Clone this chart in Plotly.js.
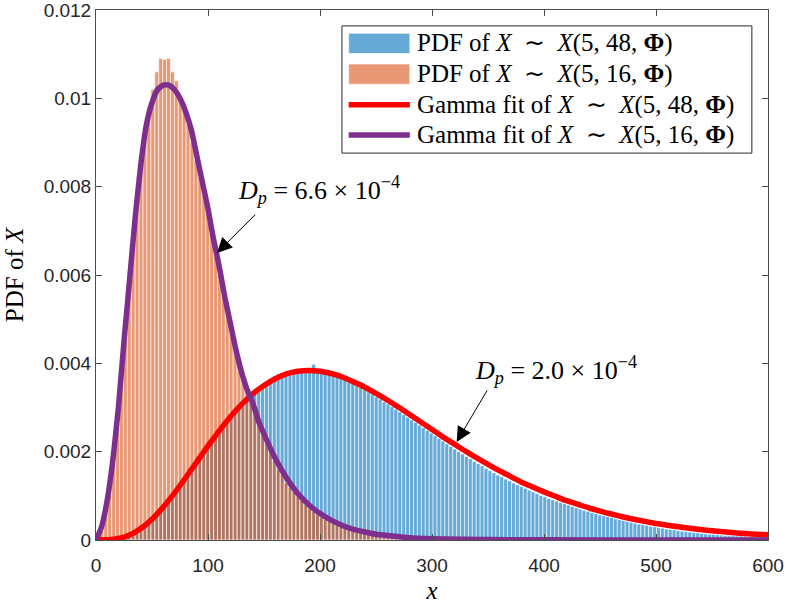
<!DOCTYPE html>
<html>
<head>
<meta charset="utf-8">
<script src="https://cdn.plot.ly/plotly-3.0.1.min.js"></script>
<style>
  html, body { margin: 0; padding: 0; background: #fff; }
  #chart { width: 788px; height: 604px; }
</style>
</head>
<body>
<div id="chart"></div>
<script>
// histogram bins (same edges for both samples), start at 0
const binWidth = 3.5;

// PDF of X ~ X(5,48,Phi), bar heights per bin
const blueHeights = [
  0, 0.000001, 0.000003, 0.000006, 0.000015, 0.00003, 0.00005, 0.00007, 0.00011, 0.00015,
  0.0002, 0.00026, 0.00033, 0.00041, 0.00049, 0.00058, 0.00068, 0.00078, 0.00089, 0.001,
  0.00112, 0.00124, 0.00136, 0.00149, 0.00161, 0.00174, 0.00187, 0.002, 0.00212, 0.00224,
  0.00236, 0.00248, 0.0026, 0.0027, 0.00281, 0.00291, 0.00301, 0.0031, 0.00319, 0.00327,
  0.00336, 0.00344, 0.0035, 0.00356, 0.00362, 0.0037, 0.00376, 0.00378, 0.0038, 0.00381,
  0.00382, 0.00384, 0.00383, 0.00385, 0.00386, 0.00398, 0.00383, 0.0038, 0.00378, 0.00375,
  0.00372, 0.00369, 0.00366, 0.00362, 0.00358, 0.00354, 0.00349, 0.00345, 0.0034, 0.00335,
  0.0033, 0.00324, 0.00319, 0.00313, 0.00308, 0.00302, 0.00296, 0.0029, 0.00284, 0.00278,
  0.00272, 0.00266, 0.0026, 0.00254, 0.00248, 0.00242, 0.00236, 0.0023, 0.00224, 0.00218,
  0.00212, 0.00206, 0.002, 0.00195, 0.00189, 0.00184, 0.00178, 0.00173, 0.00168, 0.00162,
  0.00157, 0.00152, 0.00147, 0.00143, 0.00138, 0.00134, 0.00129, 0.00125, 0.00121, 0.00117,
  0.00113, 0.00109, 0.00105, 0.00101, 0.00098, 0.00094, 0.00091, 0.00088, 0.00085, 0.00082,
  0.00079, 0.00076, 0.00073, 0.0007, 0.00067, 0.00065, 0.00062, 0.0006, 0.00057, 0.00055,
  0.00053, 0.00051, 0.00048, 0.00046, 0.00044, 0.00042, 0.0004, 0.00038, 0.00036, 0.00035,
  0.00033, 0.00031, 0.0003, 0.00028, 0.00027, 0.00025, 0.00024, 0.00023, 0.00021, 0.0002,
  0.00019, 0.00018, 0.00017, 0.00016, 0.00015, 0.00014, 0.00013, 0.00013, 0.00012, 0.00011,
  0.0001, 0.0001, 0.0001, 0.00009, 0.00009, 0.00009, 0.00008, 0.00008, 0.00008, 0.00007,
  0.00007, 0.00007
];

// PDF of X ~ X(5,16,Phi), bar heights per bin
const orangeHeights = [
  0.00003, 0.0003, 0.0007, 0.0013, 0.0019, 0.0028, 0.0037, 0.0047, 0.0058, 0.0068,
  0.0077, 0.0086, 0.0093, 0.0098, 0.0102, 0.0106, 0.0109, 0.01088, 0.0109, 0.0106,
  0.0104, 0.01, 0.0098, 0.0094, 0.009, 0.0086, 0.0082, 0.0078, 0.0074, 0.007,
  0.0066, 0.0061, 0.0057, 0.0053, 0.0048, 0.0044, 0.004, 0.0037, 0.0034, 0.0031,
  0.0029, 0.0026, 0.0024, 0.0022, 0.002, 0.0018, 0.0016, 0.0015, 0.0013, 0.0012,
  0.0011, 0.001, 0.0009, 0.0008, 0.00072, 0.00065, 0.00058, 0.00052, 0.00047, 0.00042,
  0.00038, 0.00034, 0.0003, 0.00027, 0.00024, 0.00022, 0.0002, 0.00018, 0.00016, 0.00014,
  0.00013, 0.00011, 0.0001, 0.00009, 0.00008, 0.00007, 0.00006, 0.00005, 0.00005, 0.00004,
  0.00004, 0.00003, 0.00003, 0.00002, 0.00002, 0.00002, 0.00001, 0.00001, 0.00001, 0.00001
];

// Gamma fit of X ~ X(5,48,Phi)
const redFitX = [
  0, 10, 20, 30, 40, 50, 60, 70, 80, 90, 100, 110, 120, 130, 140, 150, 160, 170, 180, 190,
  200, 210, 220, 230, 240, 250, 260, 270, 280, 290, 300, 310, 320, 330, 340, 350, 360, 370, 380, 390,
  400, 410, 420, 430, 440, 450, 460, 470, 480, 490, 500, 510, 520, 530, 540, 550, 560, 570, 580, 590, 600
];
const redFitY = [
  0, 0.0000035, 0.000033, 0.000114, 0.00026, 0.000472, 0.000744, 0.00106, 0.00141, 0.00177,
  0.00213, 0.00247, 0.00279, 0.00307, 0.00331, 0.0035, 0.00365, 0.00376, 0.00382, 0.00384,
  0.00382, 0.00377, 0.00369, 0.00358, 0.00346, 0.00332, 0.00317, 0.00301, 0.00284, 0.00267,
  0.0025, 0.00233, 0.00217, 0.00201, 0.00186, 0.00171, 0.00157, 0.00144, 0.00131, 0.0012,
  0.00109, 0.00099, 0.00089, 0.00081, 0.000727, 0.000655, 0.000588, 0.000527, 0.000471, 0.000421,
  0.000375, 0.000335, 0.000298, 0.000265, 0.000236, 0.000209, 0.000185, 0.000164, 0.000145, 0.000128,
  0.000118
];

// Gamma fit of X ~ X(5,16,Phi)
const purpleFitX = [
  0, 5, 10, 15, 20, 25, 30, 35, 40, 45, 50, 55, 60, 65, 70, 75, 80, 85, 90, 95,
  100, 105, 110, 115, 120, 125, 130, 135, 140, 145, 150, 160, 170, 180, 190, 200, 210, 220, 230, 240,
  250, 260, 280, 300, 350, 400, 500, 600
];
const purpleFitY = [
  0, 0.0003, 0.0009, 0.0018, 0.003, 0.0045, 0.0059, 0.0073, 0.0085, 0.0094,
  0.0099, 0.0102, 0.0103, 0.0103, 0.0102, 0.01, 0.0097, 0.0093, 0.0087, 0.0081,
  0.0075, 0.0068, 0.0062, 0.0055, 0.0049, 0.0043, 0.0038, 0.0034, 0.0031, 0.0027,
  0.0024, 0.00185, 0.00141, 0.00106, 0.0008, 0.0006, 0.00045, 0.00033, 0.00024, 0.00018,
  0.00013, 0.0001, 0.00005, 0.00003, 0.00001, 0.000003, 0, 0
];

const xTickVals = [0, 100, 200, 300, 400, 500, 600];
const yTickVals = [0, 0.002, 0.004, 0.006, 0.008, 0.01, 0.012];
const yTickLabels = ['0', '0.002', '0.004', '0.006', '0.008', '0.01', '0.012'];

// en spaces around the relation, as in the typeset original
const legendLabels = [
  'PDF of <i>X</i>\u2002∼\u2002<i>X</i>(5, 48, <b>Φ</b>)',
  'PDF of <i>X</i>\u2002∼\u2002<i>X</i>(5, 16, <b>Φ</b>)',
  'Gamma fit of <i>X</i>\u2002∼\u2002<i>X</i>(5, 48, <b>Φ</b>)',
  'Gamma fit of <i>X</i>\u2002∼\u2002<i>X</i>(5, 16, <b>Φ</b>)'
];

const BLUE = 'rgba(0,114,189,0.6)';
const ORANGE = 'rgba(217,83,25,0.6)';
const EDGE = 'rgba(255,255,255,0.6)';
const RED = '#ff0000';
const PURPLE = '#7e2f8e';
const SERIF = '"Liberation Serif", "Times New Roman", serif';
const SANS = '"Liberation Sans", Arial, Helvetica, sans-serif';

function binCenters(n) {
    return Array.from({ length: n }, (_, i) => i * binWidth + binWidth / 2);
}

const traces = [{
    type: 'bar',
    x: binCenters(blueHeights.length),
    y: blueHeights,
    width: binWidth,
    marker: { color: BLUE, line: { color: EDGE, width: 1 } },
    hoverinfo: 'skip'
}, {
    type: 'bar',
    x: binCenters(orangeHeights.length),
    y: orangeHeights,
    width: binWidth,
    marker: { color: ORANGE, line: { color: EDGE, width: 1 } },
    hoverinfo: 'skip'
}, {
    type: 'scatter',
    mode: 'lines',
    x: redFitX,
    y: redFitY,
    line: { color: RED, width: 5.5, shape: 'spline', smoothing: 0.5 }
}, {
    type: 'scatter',
    mode: 'lines',
    x: purpleFitX,
    y: purpleFitY,
    line: { color: PURPLE, width: 5.5, shape: 'spline', smoothing: 0.5 }
}];

// hand-built legend (MATLAB style: wide patches and long line samples)
const legX0 = 0.366, legX1 = 0.976, legY0 = 0.730, legY1 = 0.970;
const rowY = [0.937, 0.879, 0.821, 0.764];
const symX0 = 0.376, symX1 = 0.467, textX = 0.475;

const shapes = [{
    type: 'rect', xref: 'paper', yref: 'paper',
    x0: legX0, x1: legX1, y0: legY0, y1: legY1,
    line: { color: '#262626', width: 1 }, fillcolor: 'white'
}];
[BLUE, ORANGE].forEach((c, i) => shapes.push({
    type: 'rect', xref: 'paper', yref: 'paper',
    x0: symX0, x1: symX1, y0: rowY[i] - 0.019, y1: rowY[i] + 0.019,
    fillcolor: c, line: { color: EDGE, width: 1 }
}));
[RED, PURPLE].forEach((c, i) => shapes.push({
    type: 'line', xref: 'paper', yref: 'paper',
    x0: symX0, x1: symX1, y0: rowY[i + 2], y1: rowY[i + 2],
    line: { color: c, width: 5.5 }
}));

const annotations = legendLabels.map((t, i) => ({
    xref: 'paper', yref: 'paper', x: textX, y: rowY[i],
    xanchor: 'left', yanchor: 'middle', showarrow: false,
    text: t, font: { family: SERIF, size: 25, color: '#000' }
}));

annotations.push({
    xref: 'x', yref: 'y', x: 125, y: 0.00792, xanchor: 'left', yanchor: 'middle',
    showarrow: false, text: '<i>D</i><sub><i>p</i></sub> = 6.6 × 10<sup>−4</sup>',
    font: { family: SERIF, size: 26, color: '#000' }
}, {
    xref: 'x', yref: 'y', x: 337, y: 0.00385, xanchor: 'left', yanchor: 'middle',
    showarrow: false, text: '<i>D</i><sub><i>p</i></sub> = 2.0 × 10<sup>−4</sup>',
    font: { family: SERIF, size: 26, color: '#000' }
}, {
    xref: 'x', yref: 'y', axref: 'x', ayref: 'y',
    x: 108, y: 0.0065, ax: 143.5, ay: 0.0074,
    text: '', showarrow: true, arrowhead: 2, arrowsize: 3, arrowwidth: 1, arrowcolor: '#000'
}, {
    xref: 'x', yref: 'y', axref: 'x', ayref: 'y',
    x: 322, y: 0.00222, ax: 350, ay: 0.00342,
    text: '', showarrow: true, arrowhead: 2, arrowsize: 3, arrowwidth: 1, arrowcolor: '#000'
});

const axisCommon = {
    showline: true, mirror: 'ticks', linecolor: '#4d4d4d', linewidth: 1,
    ticks: 'inside', ticklen: 6, tickcolor: '#4d4d4d', tickwidth: 1,
    showgrid: false, zeroline: false, ticklabeloverflow: 'allow',
    tickfont: { family: SANS, size: 19, color: '#262626' }
};

const layout = {
    width: 788, height: 604,
    margin: { l: 96, r: 20, t: 10, b: 64 },
    paper_bgcolor: 'white', plot_bgcolor: 'white',
    showlegend: false,
    barmode: 'overlay', bargap: 0,
    xaxis: Object.assign({}, axisCommon, {
        range: [0, 600], tickvals: xTickVals, ticklabelstandoff: 8,
        title: { text: '<i>x</i>', font: { family: SERIF, size: 25, color: '#000' }, standoff: 10 }
    }),
    yaxis: Object.assign({}, axisCommon, {
        range: [0, 0.0120001], tickvals: yTickVals, ticktext: yTickLabels,
        title: { text: 'PDF of <i>X</i>', font: { family: SERIF, size: 25, color: '#000' }, standoff: 12 }
    }),
    shapes: shapes,
    annotations: annotations
};

Plotly.newPlot('chart', traces, layout, { staticPlot: true });
</script>
</body>
</html>
